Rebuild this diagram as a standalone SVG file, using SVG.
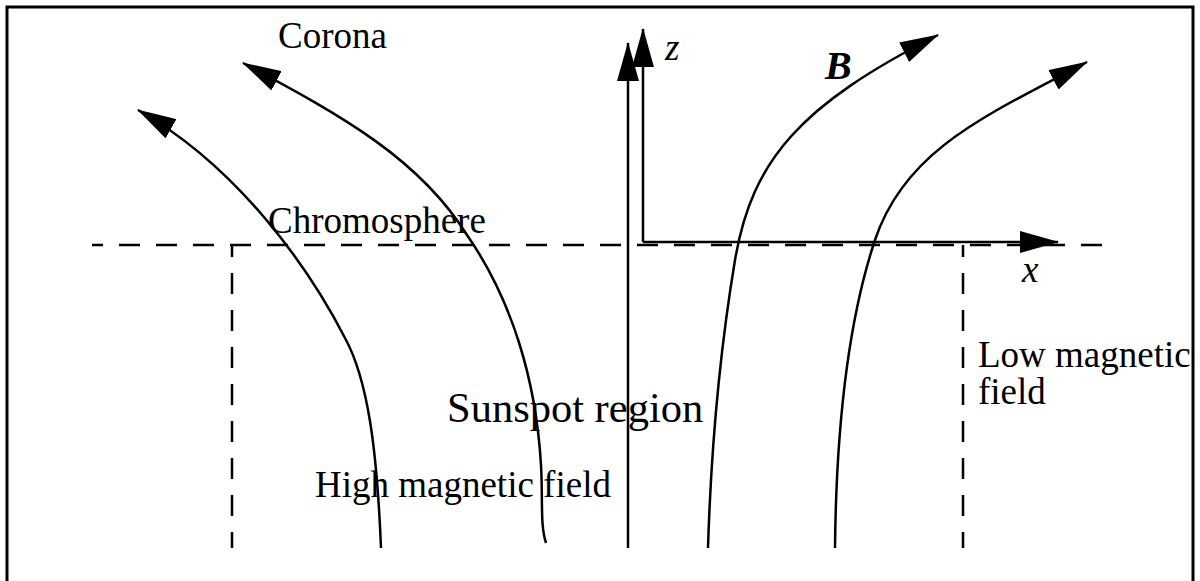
<svg xmlns="http://www.w3.org/2000/svg" width="1200" height="581" viewBox="0 0 1200 581">
  <style>
    .frame { fill: #ffffff; stroke: #000000; stroke-width: 3; }
    .dash { fill: none; stroke: #000000; stroke-width: 2.5; stroke-dasharray: 21 16; }
    .line { fill: none; stroke: #000000; stroke-width: 2.5; }
    .lbl { font-family: "Liberation Serif", "Times New Roman", serif; font-size: 37px; fill: #000000; }
    .ital { font-style: italic; }
  </style>
  <defs>
    <marker id="arrow" markerUnits="userSpaceOnUse" viewBox="0 0 39 22" refX="38" refY="11" markerWidth="39" markerHeight="22" orient="auto">
      <path d="M0,0 L39,11 L0,22 Z" fill="#000000"/>
    </marker>
  </defs>

  <rect class="frame" x="7" y="7" width="1186" height="600"/>

  <g id="regions">
    <path class="dash" d="M92,245 H1112" stroke-dashoffset="10"/>
    <path class="dash" d="M232,245 V548" stroke-dashoffset="9"/>
    <path class="dash" d="M963,245 V548" stroke-dashoffset="9"/>
  </g>

  <g id="connectors">
    <path class="line" d="M381,548 C377,450 368,380 345,338 C310,270 240,168 138,110" marker-end="url(#arrow)"/>
    <path class="line" d="M546,543 C540,525 543,500 541,465 C536,380 512,300 467,235 C420,160 345,117 243,63" marker-end="url(#arrow)"/>
    <path class="line" d="M628,548 V43" marker-end="url(#arrow)"/>
    <path class="line" d="M708,548 C711,450 720,350 735,260 C752,160 800,105 938,35" marker-end="url(#arrow)"/>
    <path class="line" d="M835,548 C836,450 845,330 875,240 C905,150 985,116 1087,62" marker-end="url(#arrow)"/>
  </g>

  <g id="axes">
    <path class="line" d="M643,242 V29" marker-end="url(#arrow)"/>
    <path class="line" d="M643,242 H1058" marker-end="url(#arrow)"/>
    <text class="lbl ital" x="665" y="60">z</text>
    <text class="lbl ital" x="1022" y="282">x</text>
  </g>

  <g id="labels">
    <text class="lbl" x="278" y="48">Corona</text>
    <text class="lbl" x="268" y="233">Chromosphere</text>
    <text class="lbl" x="447" y="422" style="font-size:42.5px">Sunspot region</text>
    <text class="lbl" x="315" y="497">High magnetic field</text>
    <text class="lbl" x="978" y="367">Low magnetic</text>
    <text class="lbl" x="978" y="404">field</text>
    <text class="lbl ital" x="825" y="79" style="font-weight:bold;font-size:40px">B</text>
  </g>
</svg>
